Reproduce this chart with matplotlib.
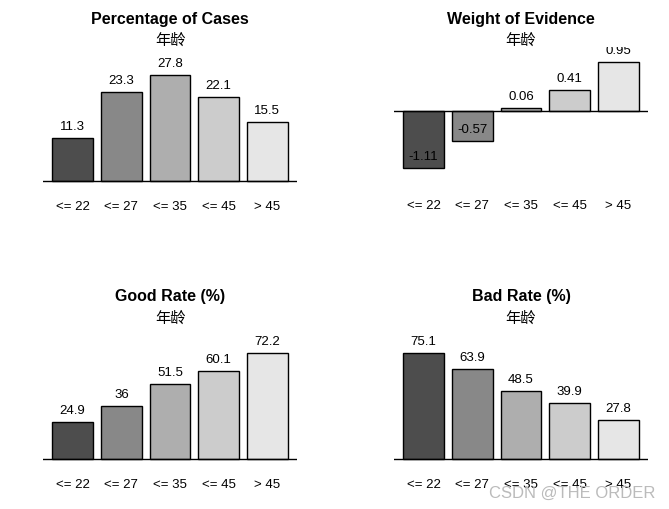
import matplotlib
matplotlib.use("Agg")
import matplotlib.pyplot as plt

plt.rcParams['font.family'] = ['Liberation Sans', 'Noto Sans CJK SC', 'DejaVu Sans']

categories = ["<= 22", "<= 27", "<= 35", "<= 45", "> 45"]
pct_cases = [11.3, 23.3, 27.8, 22.1, 15.5]
woe = [-1.11, -0.57, 0.06, 0.41, 0.95]
good_rate = [24.9, 36, 51.5, 60.1, 72.2]
bad_rate = [75.1, 63.9, 48.5, 39.9, 27.8]
titles = ["Percentage of Cases", "Weight of Evidence", "Good Rate (%)", "Bad Rate (%)"]
subtitle = "年龄"
colors = ["#4D4D4D", "#888888", "#AEAEAE", "#CCCCCC", "#E6E6E6"]

W, H = 669, 510
fig = plt.figure(figsize=(W / 100, H / 100), dpi=100)

def px_axes(x0, y0, x1, y1):
    return fig.add_axes([x0 / W, 1 - y1 / H, (x1 - x0) / W, (y1 - y0) / H])

panels = [
    (px_axes(43, 48, 297, 187), pct_cases, titles[0], 1.22),
    (px_axes(394, 48, 648, 186), woe, titles[1], 1.2),
    (px_axes(43, 326, 297, 465), good_rate, titles[2], 1.22),
    (px_axes(394, 326, 648, 465), bad_rate, titles[3], 1.22),
]

P = 0.72  # px -> pt

for ax, vals, title, k in panels:
    xs = [0.7 + 1.2 * i for i in range(len(vals))]
    ax.bar(xs, vals, width=1.0, color=colors, edgecolor="black", linewidth=1.0, zorder=2)
    lo = min(0, k * min(vals))
    hi = max(0, k * max(vals))
    r = hi - lo
    ax.set_ylim(lo - 0.04 * r, hi + 0.04 * r)
    ax.set_xlim(0.2 - 0.04 * 5.8, 6.0 + 0.04 * 5.8)
    ax.axhline(0, color="black", linewidth=1.0, zorder=3)
    for x, v in zip(xs, vals):
        ax.annotate(f"{v:g}", xy=(x, v), xytext=(0, 12 * P), textcoords="offset points",
                    ha="center", va="center", fontsize=9.5, clip_on=True, zorder=4,
                    annotation_clip=False)
    for x, c in zip(xs, categories):
        ax.annotate(c, xy=(x, 0), xycoords=("data", "axes fraction"),
                    xytext=(0, -20 * P), textcoords="offset points",
                    ha="center", va="center", fontsize=9.5, annotation_clip=False)
    ax.annotate(title, xy=(0.5, 1), xycoords="axes fraction", xytext=(0, 29 * P),
                textcoords="offset points", ha="center", va="center",
                fontsize=11.5, fontweight="bold")
    ax.annotate(subtitle, xy=(0.5, 1), xycoords="axes fraction", xytext=(0, 8 * P),
                textcoords="offset points", ha="center", va="center", fontsize=11,
                family=["Noto Sans CJK SC", "DejaVu Sans"])
    ax.axis("off")

fig.text(655 / W, 1 - 493 / H, "CSDN @THE ORDER", ha="right", va="center",
         fontsize=12, color="#BBBBBB")

fig.savefig("out.png", dpi=100)
